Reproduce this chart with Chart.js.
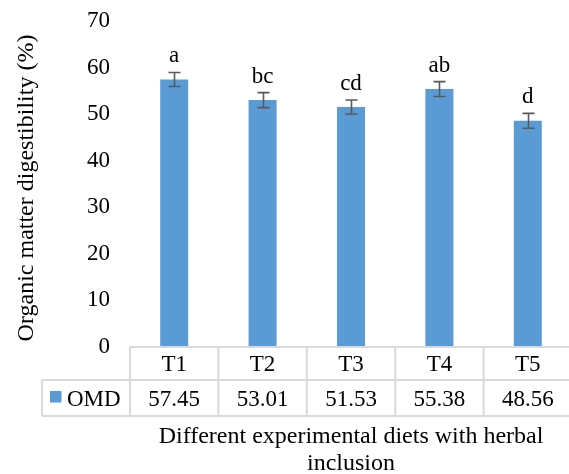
<!DOCTYPE html>
<html>
<head>
<meta charset="utf-8">
<script src="https://cdn.jsdelivr.net/npm/chart.js@4/dist/chart.umd.min.js"></script>
<style>
  html, body { margin: 0; padding: 0; background: #ffffff; overflow: hidden; }
  #wrap { position: relative; width: 572px; height: 474px; }
</style>
</head>
<body>
<div id="wrap"><canvas id="chart"></canvas></div>
<script>
// Treatments, OMD means, standard errors and significance letters
const categories = ['T1', 'T2', 'T3', 'T4', 'T5'];
const seriesName = 'OMD';
const omdValues = [57.45, 53.01, 51.53, 55.38, 48.56];
const omdErrors = [1.5, 1.6, 1.5, 1.6, 1.6];
const groupLetters = ['a', 'bc', 'cd', 'ab', 'd'];
const yAxisTitle = 'Organic matter digestibility (%)';
const xAxisTitle = ['Different experimental diets with herbal', 'inclusion'];

const FONT = "'Liberation Serif', 'Times New Roman', serif";
const BAR_COLOR = '#5B9BD5';
const TABLE_LINE = '#d9d9d9';

Chart.defaults.font.family = FONT;
Chart.defaults.color = '#000000';

// Error bars, letters above bars, the data table and the axis titles
const decorations = {
  id: 'decorations',
  afterDatasetsDraw(chart) {
    const { ctx, chartArea, scales } = chart;
    const y = scales.y;
    const meta = chart.getDatasetMeta(0);

    ctx.save();
    // error bars
    ctx.strokeStyle = '#595959';
    ctx.lineWidth = 1.6;
    meta.data.forEach((bar, i) => {
      const cx = Math.round(bar.x) + 0.5;
      const top = y.getPixelForValue(omdValues[i] + omdErrors[i]);
      const bot = y.getPixelForValue(omdValues[i] - omdErrors[i]);
      ctx.beginPath();
      ctx.moveTo(cx, top); ctx.lineTo(cx, bot);
      ctx.moveTo(cx - 6, top); ctx.lineTo(cx + 6, top);
      ctx.moveTo(cx - 6, bot); ctx.lineTo(cx + 6, bot);
      ctx.stroke();

      // significance letters
      ctx.fillStyle = '#000000';
      ctx.font = '23px ' + FONT;
      ctx.textAlign = 'center';
      ctx.textBaseline = 'alphabetic';
      ctx.fillText(groupLetters[i], bar.x, top - 10);
    });

    // data table
    const left = chartArea.left;
    const right = chartArea.right;
    const colW = (right - left) / categories.length;
    const rowTop = chartArea.bottom;
    const rowMid = rowTop + 33;
    const rowBot = rowTop + 69;
    const legendLeft = 42;

    ctx.strokeStyle = TABLE_LINE;
    ctx.lineWidth = 2;
    ctx.beginPath();
    ctx.moveTo(left, rowTop); ctx.lineTo(right + 2, rowTop);
    ctx.moveTo(legendLeft, rowMid); ctx.lineTo(right + 2, rowMid);
    ctx.moveTo(legendLeft, rowBot); ctx.lineTo(right + 2, rowBot);
    ctx.moveTo(legendLeft, rowMid); ctx.lineTo(legendLeft, rowBot);
    for (let i = 0; i <= categories.length; i++) {
      const x = left + i * colW;
      ctx.moveTo(x, rowTop); ctx.lineTo(x, rowBot);
    }
    ctx.stroke();

    ctx.fillStyle = '#000000';
    ctx.font = '23px ' + FONT;
    ctx.textAlign = 'center';
    ctx.textBaseline = 'alphabetic';
    categories.forEach((c, i) => {
      const cx = left + (i + 0.5) * colW;
      ctx.fillText(c, cx, rowTop + 24);
      ctx.fillText(omdValues[i].toFixed(2), cx, rowMid + 26);
    });

    // legend key in the table
    ctx.fillStyle = BAR_COLOR;
    ctx.fillRect(50, rowMid + 11, 11.5, 11.5);
    ctx.fillStyle = '#000000';
    ctx.textAlign = 'left';
    ctx.fillText(seriesName, 67, rowMid + 26);

    // category axis title
    ctx.font = '24px ' + FONT;
    ctx.textAlign = 'center';
    const tx = (left + right) / 2;
    ctx.fillText(xAxisTitle[0], tx, 443);
    ctx.fillText(xAxisTitle[1], tx, 470);

    // value axis title, rotated
    ctx.translate(27, (chartArea.top + chartArea.bottom) / 2 + 4);
    ctx.rotate(-Math.PI / 2);
    ctx.textBaseline = 'middle';
    ctx.fillText(yAxisTitle, 0, 0);
    ctx.restore();
  }
};

new Chart(document.getElementById('chart'), {
  type: 'bar',
  data: {
    labels: categories,
    datasets: [{
      label: seriesName,
      data: omdValues,
      backgroundColor: BAR_COLOR,
      borderWidth: 0,
      barPercentage: 0.317,
      categoryPercentage: 1.0
    }]
  },
  options: {
    responsive: true,
    maintainAspectRatio: false,
    animation: false,
    layout: { padding: { top: 21, right: 0, bottom: 127, left: 0 } },
    plugins: {
      legend: { display: false },
      tooltip: { enabled: false }
    },
    scales: {
      x: { display: false },
      y: {
        min: 0,
        max: 70,
        ticks: {
          stepSize: 10,
          padding: 20,
          color: '#000000',
          font: { size: 23, family: FONT }
        },
        grid: { display: false, drawTicks: false },
        border: { display: false },
        afterFit(scale) {
          scale.width = 130;
          // the outer layout padding already leaves room for the end labels
          scale.paddingTop = 0;
          scale.paddingBottom = 0;
        }
      }
    }
  },
  plugins: [decorations]
});
</script>
</body>
</html>
